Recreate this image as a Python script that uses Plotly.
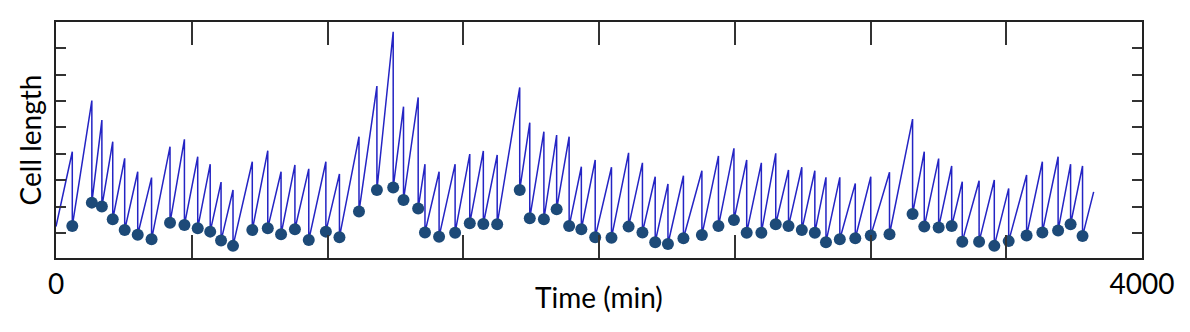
import plotly.graph_objects as go

# Cell-length trace: start value, then for every division event
# the division time, the length just before division (peak) and the birth length (dot)
start_time = 0
start_length = 1.24
division_times = [60, 132, 169, 209, 253, 301, 352, 420, 473, 522, 568, 608, 652,
                  723, 780, 829, 880, 931, 994, 1044, 1116, 1182, 1242, 1280, 1334,
                  1359, 1411, 1470, 1524, 1574, 1625, 1708, 1745, 1797, 1844, 1890,
                  1935, 1986, 2046, 2109, 2160, 2207, 2254, 2311, 2379, 2440, 2497,
                  2544, 2598, 2651, 2698, 2747, 2795, 2836, 2887, 2944, 3001, 3070,
                  3155, 3198, 3251, 3299, 3338, 3400, 3456, 3509, 3575, 3633, 3691,
                  3737, 3781]
peak_lengths = [4.08, 6.02, 5.28, 4.46, 3.83, 3.32, 3.10, 4.27, 4.55, 3.89, 3.61, 2.93,
                2.63, 3.70, 4.12, 3.32, 3.58, 3.43, 3.70, 3.24, 4.65, 6.57, 8.63, 5.79,
                6.14, 3.61, 3.32, 3.61, 3.99, 4.11, 3.96, 6.52, 5.18, 4.84, 4.71, 4.65,
                3.51, 3.77, 3.49, 4.04, 3.66, 3.13, 2.86, 3.17, 3.36, 3.92, 4.21, 3.77,
                3.66, 4.02, 3.39, 3.49, 3.36, 3.11, 3.11, 2.88, 3.13, 3.30, 5.32, 4.08,
                3.82, 3.54, 2.94, 2.98, 3.01, 2.69, 3.20, 3.70, 3.89, 3.61, 3.54]
birth_lengths = [1.26, 2.15, 2.00, 1.52, 1.11, 0.93, 0.76, 1.39, 1.30, 1.18, 1.05, 0.71,
                 0.51, 1.11, 1.18, 0.95, 1.14, 0.73, 1.05, 0.84, 1.81, 2.63, 2.72, 2.25,
                 1.93, 1.02, 0.86, 1.01, 1.37, 1.34, 1.33, 2.63, 1.56, 1.52, 1.90, 1.26,
                 1.14, 0.84, 0.82, 1.24, 1.02, 0.65, 0.58, 0.80, 0.92, 1.26, 1.49, 1.01,
                 1.01, 1.33, 1.26, 1.11, 1.01, 0.65, 0.76, 0.80, 0.90, 0.95, 1.72, 1.24,
                 1.21, 1.26, 0.67, 0.67, 0.51, 0.69, 0.90, 1.02, 1.09, 1.33, 0.88]
end_time = 3822
end_length = 2.56

x_tick_values = [0, 500, 1000, 1500, 2000, 2500, 3000, 3500, 4000]
x_tick_labels = ["0", "", "", "", "", "", "", "", "4000"]
y_tick_values = [1, 2, 3, 4, 5, 6, 7, 8]

# Build the sawtooth path: grow to peak, drop vertically to birth length
trace_x = [start_time]
trace_y = [start_length]
for t, p, b in zip(division_times, peak_lengths, birth_lengths):
    trace_x += [t, t]
    trace_y += [p, b]
trace_x.append(end_time)
trace_y.append(end_length)

FONT = "Lato, Carlito, Calibri, sans-serif"

fig = go.Figure()
fig.add_trace(go.Scatter(
    x=trace_x, y=trace_y, mode="lines",
    line=dict(color="#2424c4", width=1.5),
    hoverinfo="skip", showlegend=False,
))
fig.add_trace(go.Scatter(
    x=division_times, y=birth_lengths, mode="markers",
    marker=dict(color="#1d4a78", size=12, line=dict(width=0)),
    showlegend=False,
))

fig.update_layout(
    width=1190, height=332,
    margin=dict(l=56, r=48, t=22, b=74),
    paper_bgcolor="white", plot_bgcolor="white",
    font=dict(family=FONT, size=28, color="black"),
    annotations=[dict(
        text="Time (min)", xref="paper", yref="paper", x=0.5, y=-0.165,
        xanchor="center", yanchor="middle", showarrow=False,
        font=dict(family=FONT, size=28, color="black"),
    )],
)
fig.update_xaxes(
    range=[0, 4000], tickvals=x_tick_values, ticktext=x_tick_labels,
    ticks="inside", ticklen=23, tickwidth=1.5, tickcolor="#333333",
    showline=True, linecolor="#222222", linewidth=2, mirror="ticks",
    showgrid=False, zeroline=False, automargin=False,
    ticklabelstandoff=0,
    tickfont=dict(family=FONT, size=28, color="black"),
)
fig.update_yaxes(
    range=[0.05, 9.0], tickvals=y_tick_values, showticklabels=False,
    ticks="inside", ticklen=10, tickwidth=1.5, tickcolor="#333333",
    showline=True, linecolor="#222222", linewidth=2, mirror="ticks",
    showgrid=False, zeroline=False, automargin=False,
    title=dict(text="Cell length", standoff=4, font=dict(family=FONT, size=28, color="black")),
)

fig.write_html("out.html")
